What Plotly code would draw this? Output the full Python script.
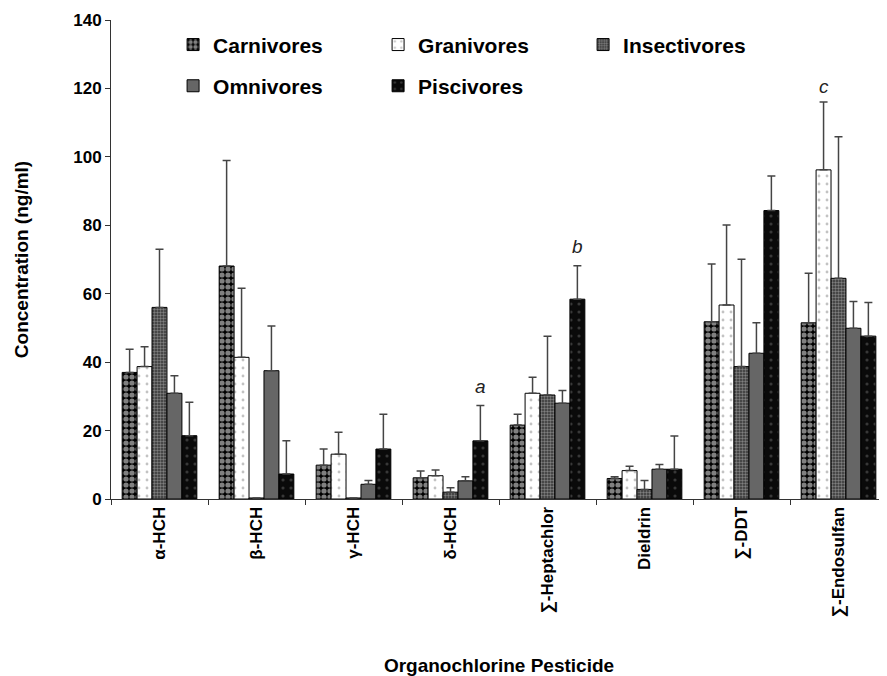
import plotly.graph_objects as go

categories = ["α-HCH", "β-HCH", "γ-HCH", "δ-HCH", "∑-Heptachlor", "Dieldrin", "∑-DDT", "∑-Endosulfan"]

carnivores_mean = [37.0, 68.1, 9.9, 6.2, 21.6, 6.0, 51.8, 51.5]
carnivores_sd = [6.8, 30.8, 4.7, 2.0, 3.2, 0.5, 16.9, 14.5]
granivores_mean = [38.7, 41.4, 13.1, 6.8, 30.9, 8.3, 56.7, 96.2]
granivores_sd = [5.8, 20.2, 6.4, 1.7, 4.7, 1.3, 23.4, 19.8]
insectivores_mean = [56.0, 0.3, 0.3, 2.0, 30.4, 2.8, 38.7, 64.5]
insectivores_sd = [17.0, None, None, 1.3, 17.2, 2.6, 31.4, 41.4]
omnivores_mean = [30.9, 37.5, 4.3, 5.3, 28.0, 8.7, 42.6, 49.9]
omnivores_sd = [5.1, 13.1, 1.1, 1.2, 3.7, 1.4, 8.9, 7.8]
piscivores_mean = [18.5, 7.3, 14.6, 17.0, 58.4, 8.7, 84.3, 47.6]
piscivores_sd = [9.8, 9.7, 10.2, 10.3, 9.8, 9.7, 10.1, 9.8]

series = [
    ("Carnivores", carnivores_mean, carnivores_sd, dict(shape=".", bgcolor="#000000", fgcolor="#ffffff", size=6, solidity=0.6), "legend"),
    ("Granivores", granivores_mean, granivores_sd, dict(shape=".", bgcolor="#ffffff", fgcolor="#888888", size=8, solidity=0.1), "legend"),
    ("Insectivores", insectivores_mean, insectivores_sd, dict(shape=".", bgcolor="#333333", fgcolor="#cccccc", size=3, solidity=0.5), "legend"),
    ("Omnivores", omnivores_mean, omnivores_sd, dict(shape="", bgcolor="#666666", fgcolor="#666666"), "legend2"),
    ("Piscivores", piscivores_mean, piscivores_sd, dict(shape=".", bgcolor="#0a0a0a", fgcolor="#666666", size=8, solidity=0.12), "legend2"),
]

FONT = "Liberation Sans, Arial, sans-serif"

fig = go.Figure()
for name, mean, sd, pat, leg in series:
    fig.add_trace(go.Bar(
        name=name,
        x=categories,
        y=mean,
        legend=leg,
        marker=dict(color=pat["bgcolor"], line=dict(color="#000000", width=1), pattern=pat),
        error_y=dict(type="data", symmetric=False, array=sd,
                     arrayminus=[0 if v is not None else None for v in sd],
                     color="#444444", thickness=1.5, width=4),
    ))

# significance letters
letters = [("a", 3 + 0.308, 32.8), ("b", 4 + 0.308, 73.8), ("c", 7 - 0.154, 120.7)]
for txt, xp, yp in letters:
    fig.add_annotation(x=xp, y=yp, xref="x", yref="y", text="<i>" + txt + "</i>",
                       showarrow=False, font=dict(family=FONT, size=19, color="#222222"))

fig.update_layout(
    width=879, height=668,
    margin=dict(l=103, r=0, t=12, b=177),
    paper_bgcolor="white", plot_bgcolor="white",
    barmode="group", bargap=0.23, bargroupgap=0,
    font=dict(family=FONT, color="#000000"),
    showlegend=True,
    legend=dict(orientation="h", x=0.080, xanchor="left", y=0.948, yanchor="middle",
                entrywidth=160, font=dict(family=FONT, size=21, weight="bold"),
                bgcolor="rgba(0,0,0,0)", traceorder="normal"),
    legend2=dict(orientation="h", x=0.080, xanchor="left", y=0.862, yanchor="middle",
                 entrywidth=160, font=dict(family=FONT, size=21, weight="bold"),
                 bgcolor="rgba(0,0,0,0)", traceorder="normal"),
    xaxis=dict(type="category", range=[-0.5, 7.5], showline=True, linecolor="#333333", linewidth=1,
               ticks="outside", tickson="boundaries", ticklen=5, tickcolor="#333333",
               tickangle=-90, tickfont=dict(family=FONT, size=17, weight="bold"),
               showgrid=False, zeroline=False,
               title=dict(text="<b>Organochlorine Pesticide</b>", font=dict(family=FONT, size=19), standoff=44)),
    yaxis=dict(range=[0, 140], dtick=20, showline=True, linecolor="#333333", linewidth=1,
               ticks="outside", ticklen=5, tickcolor="#333333", showgrid=False, zeroline=False,
               tickfont=dict(family=FONT, size=17, weight="bold"),
               title=dict(text="<b>Concentration (ng/ml)</b>", font=dict(family=FONT, size=19), standoff=39)),
)

fig.write_html("out.html")
